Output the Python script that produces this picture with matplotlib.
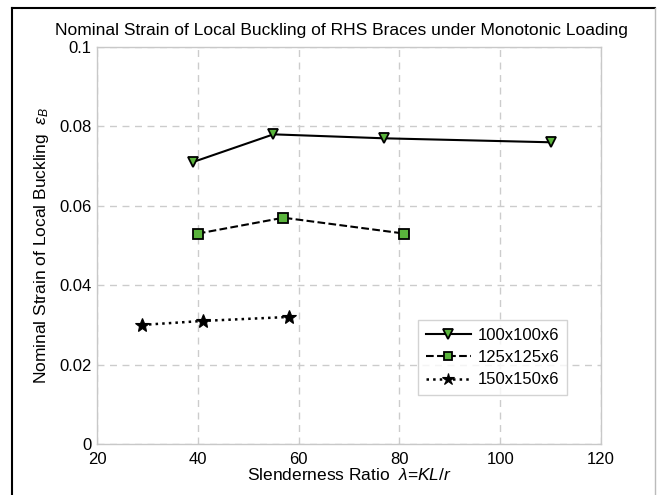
import matplotlib
matplotlib.use("Agg")
import matplotlib.pyplot as plt
from matplotlib.lines import Line2D

plt.rcParams['font.family'] = ['Liberation Sans', 'DejaVu Sans']
plt.rcParams['mathtext.fontset'] = 'custom'
plt.rcParams['mathtext.it'] = 'Liberation Sans:italic'
plt.rcParams['mathtext.rm'] = 'Liberation Sans'

# Slenderness ratio and nominal local-buckling strain per section
x_100 = [39, 55, 77, 110]
y_100 = [0.071, 0.078, 0.077, 0.076]
x_125 = [40, 57, 81]
y_125 = [0.053, 0.057, 0.053]
x_150 = [29, 41, 58]
y_150 = [0.030, 0.031, 0.032]
labels = ['100x100x6', '125x125x6', '150x150x6']
x_ticks = [20, 40, 60, 80, 100, 120]
y_ticks = [0, 0.02, 0.04, 0.06, 0.08, 0.1]
y_tick_labels = ['0', '0.02', '0.04', '0.06', '0.08', '0.1']

green = '#5ab43c'

fig = plt.figure(figsize=(6.63, 4.95), dpi=100)
ax = fig.add_axes([97 / 663, 1 - 444 / 495, 504 / 663, 397 / 495])

ax.plot(x_100, y_100, '-', color='black', lw=1.5, marker='v', ms=7.5,
        mfc=green, mec='black', mew=1.3, label=labels[0])
ax.plot(x_125, y_125, '--', color='black', lw=1.5, marker='s', ms=6.5,
        mfc=green, mec='black', mew=1.3, label=labels[1])
ax.plot(x_150, y_150, ':', color='black', lw=1.8, marker='*', ms=10,
        mfc='black', mec='black', mew=0.8, label=labels[2])

ax.set_xlim(20, 120)
ax.set_ylim(0, 0.1)
ax.set_xticks(x_ticks)
ax.set_yticks(y_ticks)
ax.set_yticklabels(y_tick_labels)
ax.tick_params(length=0, labelsize=12, pad=4)
ax.tick_params(axis='x', pad=6)
ax.grid(True, color='#cccccc', ls=(0, (5, 4)), lw=1.0)
for s in ax.spines.values():
    s.set_color('#c8c8c8')
    s.set_linewidth(1.0)

ax.set_title('Nominal Strain of Local Buckling of RHS Braces under Monotonic Loading',
             fontsize=12.5, pad=9, x=0.485)
ax.set_xlabel(r'Slenderness Ratio  $\lambda$=$KL/r$', fontsize=12.5, labelpad=0)
ax.set_ylabel(r'Nominal Strain of Local Buckling  $\varepsilon_B$', fontsize=12.5, labelpad=6)

leg = ax.legend(loc='upper left', bbox_to_anchor=((418 - 97) / 504, (444 - 320) / 397),
                borderaxespad=0, fontsize=12, frameon=True, fancybox=False,
                handlelength=2.75, borderpad=0.45, labelspacing=0.45,
                handletextpad=0.4, markerscale=0.9)
leg.get_frame().set_edgecolor('#c8c8c8')
leg.get_frame().set_linewidth(1.0)

# Frame around the figure
fig.add_artist(Line2D([12 / 663, 12 / 663], [0, 1 - 8 / 495], color='black', lw=1.5,
                      transform=fig.transFigure))
fig.add_artist(Line2D([12 / 663, 655 / 663], [1 - 8 / 495, 1 - 8 / 495], color='black', lw=1.5,
                      transform=fig.transFigure))
fig.add_artist(Line2D([655 / 663, 655 / 663], [0, 1 - 8 / 495], color='#bbbbbb', lw=1.0,
                      transform=fig.transFigure))

fig.savefig('out.png', dpi=100)
